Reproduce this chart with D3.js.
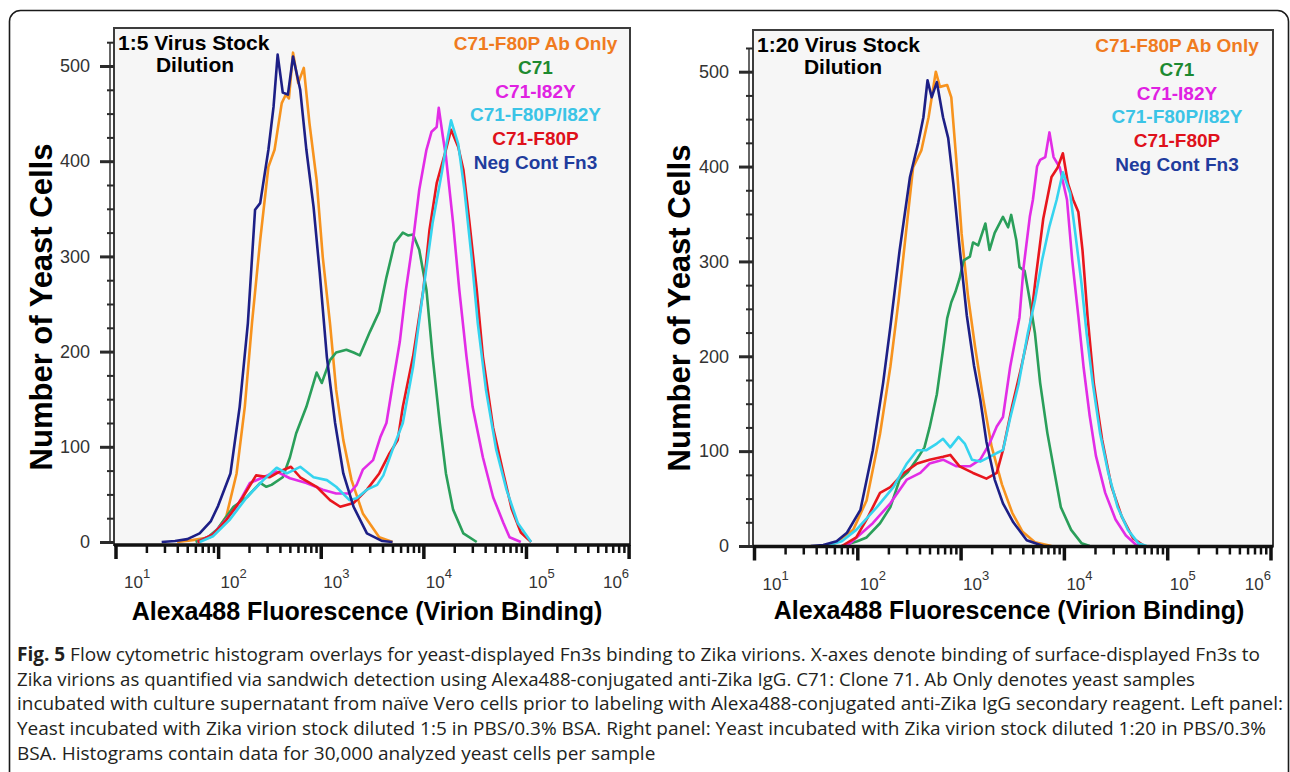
<!DOCTYPE html>
<html>
<head>
<meta charset="utf-8">
<script src="https://cdn.jsdelivr.net/npm/d3@7"></script>
<style>
  body { margin: 0; background: #fff; }
  svg { display: block; }
</style>
</head>
<body>
<svg id="fig" width="1290" height="772"></svg>
<script>
// series order as in the legend
const seriesNames = ['C71-F80P Ab Only', 'C71', 'C71-I82Y', 'C71-F80P/I82Y', 'C71-F80P', 'Neg Cont Fn3'];
const lineColors = ['#f7931e', '#2a9f5a', '#e22ce6', '#35d4ef', '#e8161d', '#1d1f86'];
const legendColors = ['#f07b1f', '#1d8a30', '#e021e2', '#3bc4e6', '#df111b', '#1f3c9d'];
const drawOrder = [0, 1, 2, 4, 3, 5];

const yMajor = [0, 100, 200, 300, 400, 500];
const yMinor = [25, 50, 75, 125, 150, 175, 225, 250, 275, 325, 350, 375, 425, 450, 475, 525];
const xDecades = [1e1, 1e2, 1e3, 1e4, 1e5, 1e6];

// [log10 fluorescence, number of cells]
// left panel: 1:5 dilution
const leftAbOnly = [[1.6,0],[1.75,2],[1.92,5],[2.0,14],[2.08,27],[2.18,72],[2.26,142],[2.33,230],[2.41,317],[2.49,394],[2.55,412],[2.62,461],[2.66,470],[2.69,466],[2.73,514],[2.78,482],[2.835,498],[2.89,440],[2.96,380],[3.02,299],[3.09,230],[3.15,160],[3.22,107],[3.30,65],[3.41,30],[3.57,5],[3.7,0]];
const leftC71 = [[1.78,0],[1.9,5],[1.99,13],[2.07,25],[2.15,37],[2.28,47],[2.41,62],[2.47,58],[2.52,60],[2.63,68],[2.70,89],[2.76,114],[2.86,142],[2.96,178],[3.01,167],[3.09,191],[3.15,199],[3.25,202],[3.32,199],[3.38,196],[3.48,221],[3.57,242],[3.64,278],[3.72,314],[3.80,325],[3.85,322],[3.90,323],[3.96,307],[4.03,265],[4.09,195],[4.16,125],[4.22,72],[4.29,34],[4.39,9],[4.52,0]];
const leftI82Y = [[1.8,0],[1.95,8],[2.05,20],[2.18,37],[2.31,62],[2.44,68],[2.57,74],[2.70,67],[2.86,62],[3.02,55],[3.15,51],[3.28,51],[3.35,60],[3.41,76],[3.51,86],[3.58,110],[3.64,125],[3.70,165],[3.77,210],[3.83,265],[3.90,317],[3.96,370],[4.03,412],[4.08,431],[4.13,436],[4.15,456],[4.19,426],[4.22,405],[4.29,335],[4.35,265],[4.42,195],[4.48,142],[4.58,89],[4.68,47],[4.78,20],[4.84,5],[4.95,0]];
const leftDual = [[1.82,0],[1.95,6],[2.11,23],[2.28,47],[2.44,65],[2.57,78],[2.67,72],[2.80,79],[2.93,68],[3.06,65],[3.15,58],[3.28,44],[3.35,46],[3.45,55],[3.55,60],[3.61,70],[3.70,97],[3.80,125],[3.90,184],[4.00,265],[4.09,335],[4.18,388],[4.22,415],[4.27,443],[4.34,418],[4.40,370],[4.47,299],[4.53,230],[4.61,160],[4.71,97],[4.81,55],[4.92,20],[5.05,0]];
const leftF80P = [[1.8,0],[1.95,8],[2.08,23],[2.24,47],[2.37,70],[2.50,68],[2.60,74],[2.71,79],[2.80,68],[2.96,58],[3.09,44],[3.19,37],[3.32,41],[3.45,55],[3.57,72],[3.67,93],[3.75,107],[3.80,142],[3.90,195],[4.00,265],[4.06,328],[4.13,377],[4.21,408],[4.27,433],[4.34,415],[4.39,391],[4.45,335],[4.52,265],[4.58,195],[4.68,120],[4.78,72],[4.86,35],[4.95,10],[5.05,0]];
const leftNeg = [[1.45,0],[1.58,1],[1.7,3],[1.82,9],[1.93,22],[2.0,38],[2.12,72],[2.21,142],[2.29,230],[2.36,349],[2.41,356],[2.49,412],[2.54,457],[2.58,512],[2.63,472],[2.68,470],[2.73,510],[2.80,475],[2.86,412],[2.93,352],[2.99,283],[3.06,194],[3.14,125],[3.22,72],[3.32,37],[3.45,9],[3.6,1],[3.7,0]];

// right panel: 1:20 dilution
const rightAbOnly = [[1.65,0],[1.77,2],[1.96,17],[2.09,48],[2.22,118],[2.32,189],[2.40,259],[2.46,319],[2.54,399],[2.62,417],[2.69,452],[2.76,500],[2.80,484],[2.87,486],[2.91,473],[2.96,405],[3.01,329],[3.07,265],[3.14,210],[3.22,154],[3.30,105],[3.40,65],[3.50,35],[3.60,15],[3.72,4],[3.88,0]];
const rightC71 = [[1.85,0],[2.0,5],[2.09,9],[2.22,24],[2.32,41],[2.41,70],[2.49,78],[2.58,92],[2.65,104],[2.70,125],[2.77,160],[2.83,207],[2.87,240],[2.91,257],[2.95,268],[2.99,282],[3.03,301],[3.09,305],[3.12,320],[3.17,317],[3.24,340],[3.28,312],[3.33,330],[3.41,347],[3.46,336],[3.49,349],[3.54,322],[3.57,294],[3.62,290],[3.67,259],[3.72,224],[3.77,172],[3.84,119],[3.91,77],[3.97,41],[4.07,17],[4.17,3],[4.25,0]];
const rightI82Y = [[1.85,0],[1.93,3],[2.15,24],[2.32,45],[2.48,70],[2.61,77],[2.70,87],[2.83,91],[2.96,84],[3.09,84],[3.19,91],[3.28,108],[3.35,126],[3.41,136],[3.48,189],[3.57,241],[3.61,294],[3.67,347],[3.70,365],[3.74,400],[3.77,407],[3.82,410],[3.86,436],[3.90,410],[3.96,399],[4.03,365],[4.08,302],[4.14,242],[4.19,189],[4.25,137],[4.31,95],[4.40,56],[4.50,28],[4.60,11],[4.70,1],[4.76,0]];
const rightDual = [[1.70,0],[1.85,5],[1.99,17],[2.19,41],[2.35,62],[2.48,87],[2.58,101],[2.67,101],[2.77,108],[2.83,113],[2.90,104],[2.98,115],[3.04,108],[3.11,91],[3.19,89],[3.28,94],[3.35,98],[3.41,101],[3.48,135],[3.56,170],[3.65,224],[3.72,259],[3.79,302],[3.86,337],[3.93,365],[3.99,394],[4.06,372],[4.11,330],[4.17,277],[4.22,224],[4.28,171],[4.35,119],[4.43,77],[4.52,41],[4.62,17],[4.72,3],[4.80,0]];
const rightF80P = [[1.85,0],[1.99,9],[2.10,30],[2.22,56],[2.32,62],[2.45,77],[2.58,87],[2.70,91],[2.83,94],[2.90,96],[2.99,84],[3.12,77],[3.25,71],[3.35,77],[3.41,101],[3.50,148],[3.58,185],[3.67,230],[3.73,285],[3.80,345],[3.88,389],[3.94,399],[3.99,414],[4.04,382],[4.09,365],[4.14,352],[4.18,312],[4.23,241],[4.29,171],[4.37,112],[4.46,63],[4.56,31],[4.67,8],[4.78,0]];
const rightNeg = [[1.55,0],[1.67,1],[1.80,5],[1.90,14],[2.03,38],[2.15,101],[2.25,172],[2.32,231],[2.41,312],[2.51,389],[2.59,425],[2.64,452],[2.68,491],[2.72,473],[2.77,489],[2.83,452],[2.88,430],[2.93,382],[2.99,315],[3.06,243],[3.13,190],[3.19,155],[3.25,110],[3.33,70],[3.41,45],[3.51,25],[3.64,6],[3.8,0]];

const captionLines = [
  'Flow cytometric histogram overlays for yeast-displayed Fn3s binding to Zika virions. X-axes denote binding of surface-displayed Fn3s to',
  'Zika virions as quantified via sandwich detection using Alexa488-conjugated anti-Zika IgG. C71: Clone 71. Ab Only denotes yeast samples',
  'incubated with culture supernatant from naïve Vero cells prior to labeling with Alexa488-conjugated anti-Zika IgG secondary reagent. Left panel:',
  'Yeast incubated with Zika virion stock diluted 1:5 in PBS/0.3% BSA. Right panel: Yeast incubated with Zika virion stock diluted 1:20 in PBS/0.3%',
  'BSA. Histograms contain data for 30,000 analyzed yeast cells per sample'
];

const svg = d3.select('#fig');
const sans = 'Liberation Sans, Arial, Helvetica, sans-serif';

// outer frame
svg.append('rect')
  .attr('x', 9.5).attr('y', 10.5)
  .attr('width', 1279).attr('height', 800)
  .attr('rx', 11)
  .attr('fill', 'none')
  .attr('stroke', '#1a1a1a')
  .attr('stroke-width', 1.6);

function drawPanel(p, series) {
  const g = svg.append('g');
  const x = d3.scaleLog().domain([10, 1e6]).range([p.xl, p.xr]);
  const y = d3.scaleLinear().domain([0, 500]).range([p.y0, p.y500]);

  g.append('rect')
    .attr('x', p.bl).attr('y', p.bt)
    .attr('width', p.br - p.bl).attr('height', p.bb - p.bt)
    .attr('fill', '#f6f6f6')
    .attr('stroke', '#3c3c3c')
    .attr('stroke-width', 2);

  const line = d3.line()
    .x(d => x(10 ** d[0]))
    .y(d => y(d[1]));

  drawOrder.forEach(i => {
    g.append('path')
      .datum(series[i])
      .attr('fill', 'none')
      .attr('stroke', lineColors[i])
      .attr('stroke-width', 2.6)
      .attr('stroke-linejoin', 'round')
      .attr('d', line);
  });

  // y axis
  g.append('line')
    .attr('x1', p.bl - 4).attr('x2', p.bl - 4)
    .attr('y1', y(0)).attr('y2', y(525))
    .attr('stroke', '#333').attr('stroke-width', 1.5);

  const yAx = g.append('g')
    .attr('transform', `translate(${p.bl},0)`)
    .call(d3.axisLeft(y).tickValues(yMajor).tickSize(14).tickPadding(10).tickFormat(d3.format('d')));
  yAx.select('.domain').remove();
  yAx.selectAll('.tick line').attr('stroke', '#2a2a2a').attr('stroke-width', 3);
  yAx.selectAll('.tick text')
    .attr('font-family', sans).attr('font-size', 18).attr('fill', '#333');

  const yMin = g.append('g')
    .attr('transform', `translate(${p.bl},0)`)
    .call(d3.axisLeft(y).tickValues(yMinor).tickSize(7).tickFormat(''));
  yMin.select('.domain').remove();
  yMin.selectAll('.tick line').attr('stroke', '#2a2a2a').attr('stroke-width', 2);

  // x axis
  const minors = x.ticks().filter(v => !xDecades.includes(v));
  const xMin = g.append('g')
    .attr('transform', `translate(0,${p.bb})`)
    .call(d3.axisBottom(x).tickValues(minors).tickSize(8).tickFormat(''));
  xMin.select('.domain').remove();
  xMin.selectAll('.tick line').attr('stroke', '#111').attr('stroke-width', 2.5);

  const xAx = g.append('g')
    .attr('transform', `translate(0,${p.bb})`)
    .call(d3.axisBottom(x).tickValues(xDecades).tickSize(14).tickFormat(''));
  xAx.select('.domain').remove();
  xAx.selectAll('.tick line').attr('stroke', '#111').attr('stroke-width', 3.5);
  xAx.selectAll('.tick text').each(function (d, i) {
    const t = d3.select(this)
      .attr('y', 43).attr('dy', 0)
      .attr('x', i === 0 ? 8 : (i === xDecades.length - 1 ? 0 : 2))
      .attr('text-anchor', i === xDecades.length - 1 ? 'end' : 'start')
      .attr('font-family', sans).attr('font-size', 17).attr('fill', '#333');
    t.append('tspan').text('10');
    t.append('tspan').attr('dy', -10).attr('font-size', 13).text(Math.round(Math.log10(d)));
  });

  g.append('line')
    .attr('x1', p.bl).attr('x2', p.br)
    .attr('y1', p.bb).attr('y2', p.bb)
    .attr('stroke', '#111').attr('stroke-width', 3.5);

  // titles
  g.append('text')
    .attr('transform', `translate(${p.ytx},${p.yty}) rotate(-90)`)
    .attr('text-anchor', 'middle')
    .attr('font-family', sans).attr('font-weight', 'bold').attr('font-size', 31)
    .text('Number of Yeast Cells');
  g.append('text')
    .attr('x', p.xtx).attr('y', p.xty)
    .attr('text-anchor', 'middle')
    .attr('font-family', sans).attr('font-weight', 'bold').attr('font-size', 25)
    .text('Alexa488 Fluorescence (Virion Binding)');

  g.append('text')
    .attr('x', p.bl + 4).attr('y', p.bt + 22)
    .attr('font-family', sans).attr('font-weight', 'bold').attr('font-size', 21)
    .text(p.label);
  g.append('text')
    .attr('x', p.dilX).attr('y', p.bt + 44)
    .attr('text-anchor', 'middle')
    .attr('font-family', sans).attr('font-weight', 'bold').attr('font-size', 21)
    .text('Dilution');

  g.append('g').selectAll('text')
    .data(seriesNames)
    .join('text')
    .attr('x', p.legX)
    .attr('y', (d, i) => p.bt + 22 + i * 23.8)
    .attr('text-anchor', 'middle')
    .attr('font-family', sans).attr('font-weight', 'bold').attr('font-size', 19)
    .attr('fill', (d, i) => legendColors[i])
    .text(d => d);
}

drawPanel(
  { bl: 114, br: 630, bt: 28, bb: 545, xl: 115.5, xr: 628.6, y0: 542, y500: 66,
    ytx: 52, yty: 307, xtx: 367, xty: 620, label: '1:5 Virus Stock', dilX: 195, legX: 535.5 },
  [leftAbOnly, leftC71, leftI82Y, leftDual, leftF80P, leftNeg]
);
drawPanel(
  { bl: 753, br: 1273, bt: 30, bb: 546.5, xl: 754, xr: 1270.5, y0: 546, y500: 71.7,
    ytx: 690, yty: 308, xtx: 1009, xty: 619, label: '1:20 Virus Stock', dilX: 843, legX: 1177 },
  [rightAbOnly, rightC71, rightI82Y, rightDual, rightF80P, rightNeg]
);

// caption; a line is squeezed only when it runs past the width it has in the figure
const capWidths = [1260, 1178, 1266, 1260, 1260];
const cap = svg.append('g')
  .attr('font-family', 'Open Sans, Noto Sans, sans-serif')
  .attr('font-size', 19)
  .attr('fill', '#231f20');
captionLines.forEach((s, i) => {
  const t = cap.append('text')
    .attr('x', 17).attr('y', 661 + i * 24.7);
  if (i === 0) {
    t.append('tspan').attr('font-weight', 'bold').text('Fig. 5');
    t.append('tspan').text(' ' + s);
  } else {
    t.text(s);
  }
  if (t.node().getComputedTextLength() > capWidths[i]) {
    t.attr('textLength', capWidths[i]).attr('lengthAdjust', 'spacingAndGlyphs');
  }
});
</script>
</body>
</html>
